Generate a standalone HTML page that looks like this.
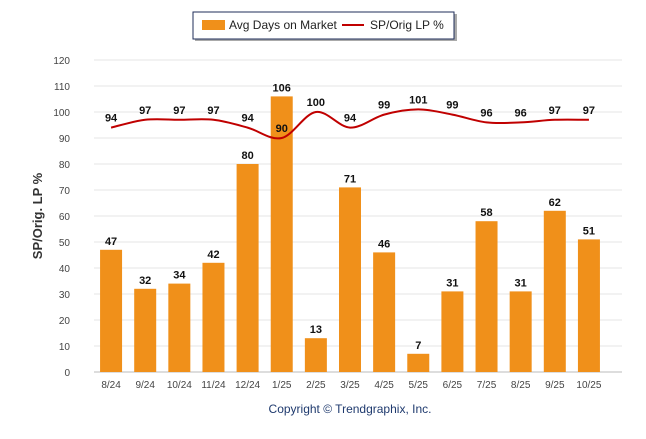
<!DOCTYPE html>
<html><head><meta charset="utf-8"><style>
body{margin:0;background:#fff;font-family:"Liberation Sans",Arial,sans-serif}
svg text{font-family:"Liberation Sans",Arial,sans-serif}
</style></head><body>
<svg width="646" height="434" xmlns="http://www.w3.org/2000/svg">
<g>
<rect x="195" y="14" width="262" height="27" fill="#555" opacity="0.5"/>
<rect x="193" y="12" width="261" height="27" fill="#fff" stroke="#1f2d5a" stroke-width="1"/>
<rect x="202" y="20" width="23" height="10" fill="#f0901a"/>
<text x="229" y="29" font-size="12" fill="#222">Avg Days on Market</text>
<line x1="342" y1="25" x2="364" y2="25" stroke="#c00000" stroke-width="2"/>
<text x="370" y="29" font-size="12" fill="#222">SP/Orig LP %</text>
</g>
<g id="grid"></g>
<g id="bars"></g>
<g id="line"></g>
<text transform="translate(42,216) rotate(-90)" text-anchor="middle" font-size="13" font-weight="bold" fill="#333">SP/Orig. LP %</text>
<text x="350" y="413" text-anchor="middle" font-size="12" fill="#1f3a6e">Copyright © Trendgraphix, Inc.</text>
</svg>
<script>
const categories=["8/24","9/24","10/24","11/24","12/24","1/25","2/25","3/25","4/25","5/25","6/25","7/25","8/25","9/25","10/25"];
const daysValues=[47,32,34,42,80,106,13,71,46,7,31,58,31,62,51];
const spValues=[94,97,97,97,94,90,100,94,99,101,99,96,96,97,97];
const yTicks=[0,10,20,30,40,50,60,70,80,90,100,110,120];
const NS="http://www.w3.org/2000/svg";
const y0=372,yTop=60,yMax=120,left=94,right=606;
const step=(right-left)/categories.length;
const Y=v=>y0-(v/yMax)*(y0-yTop);
const X=i=>left+step*(i+0.5);
function mk(tag,attrs,parent,txt){const e=document.createElementNS(NS,tag);for(const k in attrs)e.setAttribute(k,attrs[k]);if(txt!==undefined)e.textContent=txt;parent.appendChild(e);return e;}
const grid=document.getElementById('grid');
yTicks.forEach(t=>{
 const l=mk('line',{x1:left,x2:right+16,y1:Y(t),y2:Y(t),stroke:t===0?'#bbb':'#e6e6e6','stroke-width':1},grid);
 
 
 const tx=mk('text',{x:70,y:Y(t)+4,'text-anchor':'end','font-size':10,fill:'#444'},grid,t);
 
 
});
const bars=document.getElementById('bars');
categories.forEach((c,i)=>{
 const v=daysValues[i];
 const r=mk('rect',{x:X(i)-11,y:Y(v),width:22,height:y0-Y(v),fill:'#f0901a'},bars);
 
 
 const t=mk('text',{x:X(i),y:Y(v)-5,'text-anchor':'middle','font-size':11,'font-weight':'bold',fill:'#111'},bars,v);
 
 
 const xl=mk('text',{x:X(i),y:388,'text-anchor':'middle','font-size':10,fill:'#444'},bars,c);
 
 
});
const lg=document.getElementById('line');
const pts=spValues.map((v,i)=>[X(i),Y(v)]);
let d='M'+pts[0][0]+','+pts[0][1];
for(let i=0;i<pts.length-1;i++){
 const p0=pts[i-1]||pts[i],p1=pts[i],p2=pts[i+1],p3=pts[i+2]||p2;
 const c1x=p1[0]+(p2[0]-p0[0])/6,c1y=p1[1]+(p2[1]-p0[1])/6;
 const c2x=p2[0]-(p3[0]-p1[0])/6,c2y=p2[1]-(p3[1]-p1[1])/6;
 d+=` C${c1x},${c1y} ${c2x},${c2y} ${p2[0]},${p2[1]}`;
}
const path=mk('path',{d:d,fill:'none',stroke:'#c00000','stroke-width':2},lg);


spValues.forEach((v,i)=>{
 const t=mk('text',{x:X(i),y:Y(v)-6,'text-anchor':'middle','font-size':11,'font-weight':'bold',fill:'#111'},lg,v);
 
 
});
</script>
</body></html>
